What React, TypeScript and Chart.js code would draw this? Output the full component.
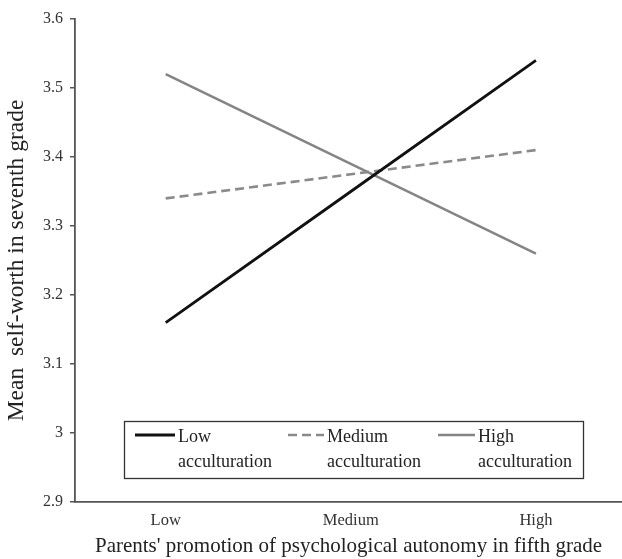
import React, { useEffect, useRef } from "react";
import { Chart, registerables } from "chart.js";

Chart.register(...registerables);

const categories = ["Low", "Medium", "High"];
const lowAcculturation = [3.16, 3.35, 3.54];
const mediumAcculturation = [3.34, 3.375, 3.41];
const highAcculturation = [3.52, 3.39, 3.26];
const seriesLabels = [
  ["Low", "acculturation"],
  ["Medium", "acculturation"],
  ["High", "acculturation"],
];
const yTickValues = [2.9, 3, 3.1, 3.2, 3.3, 3.4, 3.5, 3.6];
const xTitle = "Parents' promotion of psychological autonomy in fifth grade";
const yTitle = "Mean  self-worth in seventh grade";

const FONT = "'Liberation Serif', 'Times New Roman', serif";

const legendPlugin = {
  id: "innerLegend",
  afterDraw(chart: any) {
    const ctx = chart.ctx;
    const bx = 124, by = 421, bw = 459, bh = 57;
    ctx.save();
    ctx.fillStyle = "#fff";
    ctx.fillRect(bx, by, bw, bh);
    ctx.strokeStyle = "#333";
    ctx.lineWidth = 1.3;
    ctx.strokeRect(bx + 0.5, by + 0.5, bw, bh);
    const starts = [135, 288, 438];
    const sampleLen = [40, 36, 37];
    ctx.font = `18px ${FONT}`;
    ctx.textBaseline = "middle";
    ctx.textAlign = "left";
    chart.data.datasets.forEach((ds: any, i: number) => {
      const x0 = starts[i];
      const y0 = 435;
      ctx.beginPath();
      ctx.strokeStyle = ds.borderColor;
      ctx.lineWidth = ds.borderWidth;
      ctx.setLineDash(ds.borderDash || []);
      ctx.moveTo(x0, y0);
      ctx.lineTo(x0 + sampleLen[i], y0);
      ctx.stroke();
      ctx.setLineDash([]);
      ctx.fillStyle = "#222";
      const lines = seriesLabels[i];
      lines.forEach((t: string, j: number) => {
        ctx.fillText(t, x0 + sampleLen[i] + 3, y0 + 2 + j * 25);
      });
    });
    ctx.restore();
  },
};

export default function App() {
  const ref = useRef<HTMLCanvasElement>(null);
  useEffect(() => {
    document.body.style.margin = "0";
    const toPts = (arr: number[]) => arr.map((v, i) => ({ x: i, y: v }));
    const chart = new Chart(ref.current as HTMLCanvasElement, {
      type: "line",
      data: {
        datasets: [
          {
            label: seriesLabels[0].join(" "),
            data: toPts(lowAcculturation),
            borderColor: "#111111",
            borderWidth: 2.8,
            pointRadius: 0,
            tension: 0,
          },
          {
            label: seriesLabels[1].join(" "),
            data: toPts(mediumAcculturation),
            borderColor: "#8a8a8a",
            borderWidth: 2.6,
            borderDash: [9, 5],
            pointRadius: 0,
            tension: 0,
          },
          {
            label: seriesLabels[2].join(" "),
            data: toPts(highAcculturation),
            borderColor: "#858585",
            borderWidth: 2.6,
            pointRadius: 0,
            tension: 0,
          },
        ],
      },
      options: {
        animation: false,
        responsive: false,
        maintainAspectRatio: false,
        layout: { padding: { top: 19, right: 0, left: 0, bottom: 0 } },
        plugins: { legend: { display: false }, tooltip: { enabled: false } },
        scales: {
          x: {
            type: "linear",
            min: -0.49,
            max: 2.465,
            afterBuildTicks: (scale: any) => {
              scale.ticks = categories.map((_, i) => ({ value: i }));
            },
            afterFit: (scale: any) => {
              scale.height = 57;
            },
            ticks: {
              callback: (v: any) => categories[v as number] ?? "",
              font: { family: FONT, size: 16.5 },
              color: "#333",
              padding: 9,
              maxRotation: 0,
              autoSkip: false,
            },
            grid: { display: true, drawOnChartArea: false, drawTicks: false },
            border: { color: "#555", width: 1.8 },
            title: {
              display: true,
              text: xTitle,
              font: { family: FONT, size: 21 },
              color: "#222",
              padding: { top: 0, bottom: 0 },
            },
          },
          y: {
            type: "linear",
            min: 2.9,
            max: 3.6,
            afterBuildTicks: (scale: any) => {
              scale.ticks = yTickValues.map((v) => ({ value: v }));
            },
            afterFit: (scale: any) => {
              scale.width = 75;
            },
            ticks: {
              callback: (v: any) => String(Math.round((v as number) * 10) / 10),
              font: { family: FONT, size: 16 },
              color: "#333",
              padding: 7,
            },
            grid: {
              display: true,
              drawOnChartArea: false,
              drawTicks: true,
              tickLength: 5,
              color: "#555",
              lineWidth: 1.5,
            },
            border: { color: "#555", width: 1.8 },
            title: {
              display: true,
              text: yTitle,
              font: { family: FONT, size: 23.5 },
              color: "#222",
              padding: { top: 3, bottom: 0 },
            },
          },
        },
      },
      plugins: [legendPlugin],
    } as any);
    return () => chart.destroy();
  }, []);
  return (
    <div style={{ width: 622, height: 559 }}>
      <canvas ref={ref} width={622} height={559} style={{ display: "block", width: 622, height: 559 }} />
    </div>
  );
}
